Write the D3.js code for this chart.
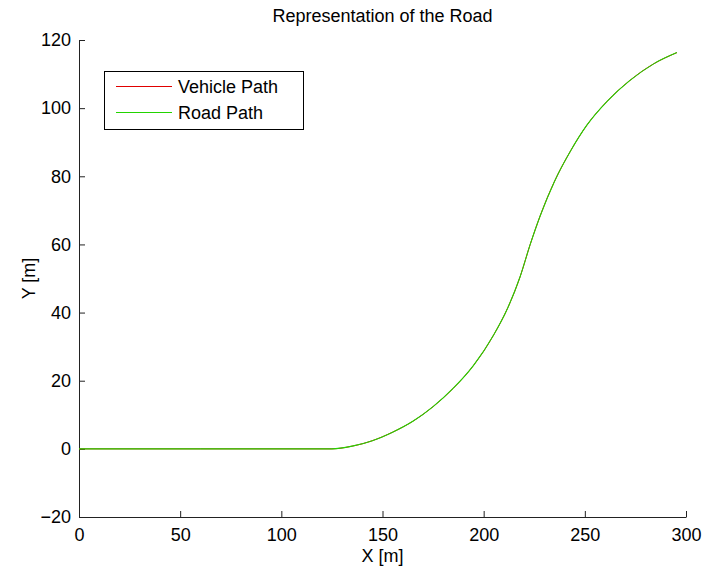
<!DOCTYPE html>
<html>
<head>
<meta charset="utf-8">
<script src="https://cdn.jsdelivr.net/npm/d3@7"></script>
<style>
  body { margin: 0; background: #fff; }
  text { font-family: "Liberation Sans", Arial, sans-serif; fill: #000; }
</style>
</head>
<body>
<div id="chart"></div>
<script>
// values
const roadX = [0, 60, 125, 135, 145, 155, 165, 175, 185, 195, 205, 212, 218, 223, 228, 235, 243, 251, 261, 272, 284, 295.5];
const roadY = [0, 0, 0, 0.8, 2.4, 4.9, 8.1, 12.4, 17.8, 24.5, 33.5, 41.5, 50.5, 60.0, 68.5, 78.5, 87.5, 95.0, 102.0, 108.0, 113.0, 116.3];
const vehicleX = roadX.slice();
const vehicleY = roadY.slice();
const xTicks = [0, 50, 100, 150, 200, 250, 300];
const yTicks = [-20, 0, 20, 40, 60, 80, 100, 120];
const seriesNames = ['Vehicle Path', 'Road Path'];
const seriesColors = ['#e00000', '#22d400'];

const W = 702, H = 569;
const margin = { left: 79, right: 16, top: 40, bottom: 52 };

const svg = d3.select('#chart').append('svg').attr('width', W).attr('height', H);

const x = d3.scaleLinear().domain([0, 300]).range([margin.left, W - margin.right]);
const y = d3.scaleLinear().domain([-20, 120]).range([H - margin.bottom, margin.top]);

// axes, ticks pointing in
const xAxis = svg.append('g')
    .attr('transform', 'translate(0,' + y(-20) + ')')
    .call(d3.axisBottom(x).tickValues(xTicks).tickSizeInner(-6).tickSizeOuter(0).tickPadding(12)
        .tickFormat(d3.format('d')));
const yAxis = svg.append('g')
    .attr('transform', 'translate(' + x(0) + ',0)')
    .call(d3.axisLeft(y).tickValues(yTicks).tickSizeInner(-6).tickSizeOuter(0).tickPadding(8)
        .tickFormat(d => d < 0 ? '\u2212' + Math.abs(d) : d));
[xAxis, yAxis].forEach(function (g) {
    g.selectAll('.domain').attr('stroke', '#222');
    g.selectAll('.tick line').attr('stroke', '#222');
    g.selectAll('text').attr('font-size', 18).attr('font-family', '"Liberation Sans", Arial, sans-serif');
});
xAxis.selectAll('text').attr('dy', '0.71em').attr('y', 11);

// lines
const line = d3.line().x(d => x(d[0])).y(d => y(d[1])).curve(d3.curveMonotoneX);
svg.append('path')
    .datum(d3.zip(vehicleX, vehicleY))
    .attr('fill', 'none').attr('stroke', seriesColors[0]).attr('stroke-width', 1)
    .attr('d', line);
svg.append('path')
    .datum(d3.zip(roadX, roadY))
    .attr('fill', 'none').attr('stroke', seriesColors[1]).attr('stroke-width', 1.1)
    .attr('d', line);

// labels
const midX = (x(0) + x(300)) / 2;
svg.append('text').attr('x', midX).attr('y', 22).attr('text-anchor', 'middle')
    .attr('font-size', 18).text('Representation of the Road');
svg.append('text').attr('x', midX).attr('y', 562).attr('text-anchor', 'middle')
    .attr('font-size', 18).text('X [m]');
svg.append('text')
    .attr('transform', 'translate(35,' + (y(-20) + y(120)) / 2 + ') rotate(-90)')
    .attr('text-anchor', 'middle').attr('font-size', 18).text('Y [m]');

// legend
const legend = svg.append('g');
legend.append('rect').attr('x', 104.5).attr('y', 71.5).attr('width', 199).attr('height', 58)
    .attr('fill', '#fff').attr('stroke', '#000').attr('stroke-width', 1);
seriesNames.forEach(function (name, i) {
    const ly = 86.5 + i * 26;
    legend.append('line').attr('x1', 116).attr('x2', 172).attr('y1', ly).attr('y2', ly)
        .attr('stroke', seriesColors[i]).attr('stroke-width', 1);
    legend.append('text').attr('x', 178).attr('y', ly).attr('dy', '0.35em')
        .attr('font-size', 18).text(name);
});
</script>
</body>
</html>
